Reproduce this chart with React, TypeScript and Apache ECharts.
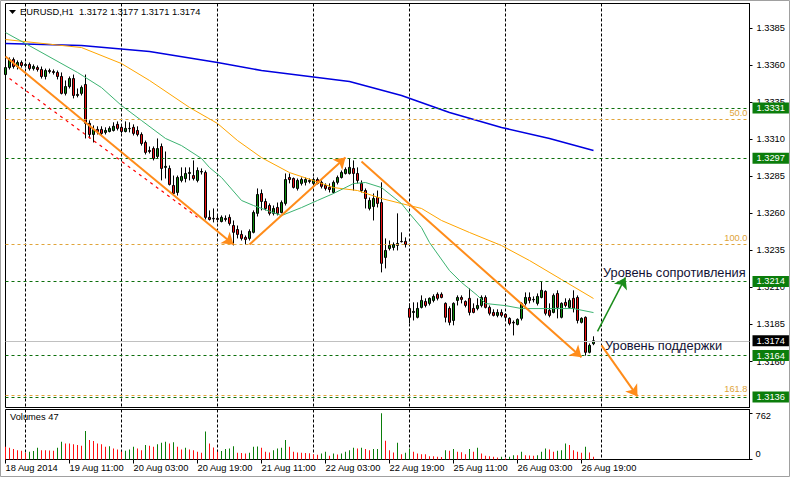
import React, { useEffect, useRef } from "react";
import * as echarts from "echarts";

const FONT = "'Liberation Sans', Arial, sans-serif";
const SYMBOL = "EURUSD,H1";
const TIME_LABELS = ["18 Aug 2014", "19 Aug 11:00", "20 Aug 03:00", "20 Aug 19:00", "21 Aug 11:00", "22 Aug 03:00", "22 Aug 19:00", "25 Aug 11:00", "26 Aug 03:00", "26 Aug 19:00"];
const LABEL_STEP = 16;
const SLOT_COUNT = 187;
const DAY_SEPARATORS = [5, 29, 53, 77, 101, 125, 149];
const PRICE_TICKS = [1.316, 1.3185, 1.321, 1.3235, 1.326, 1.3285, 1.331, 1.3335, 1.336, 1.3385];
const VOLUME_TICKS = [0, 762];

const OPEN = [
  1.33535, 1.33582, 1.33636, 1.33589, 1.33616, 1.33596, 1.33603, 1.33575, 1.33582, 1.33569,
  1.33522, 1.33562, 1.33555, 1.33549, 1.33522, 1.33408, 1.33454, 1.33508, 1.33394, 1.33408,
  1.33468, 1.33206, 1.33131, 1.33165, 1.33165, 1.33145, 1.33151, 1.33158, 1.33199, 1.33179,
  1.33151, 1.33172, 1.33179, 1.33158, 1.33131, 1.33077, 1.33023, 1.33036, 1.32983, 1.33050,
  1.32909, 1.32902, 1.32787, 1.32740, 1.32821, 1.32834, 1.32868, 1.32854, 1.32821, 1.32881,
  1.32875, 1.32572, 1.32565, 1.32565, 1.32544, 1.32565, 1.32572, 1.32517, 1.32490, 1.32457,
  1.32437, 1.32430, 1.32471, 1.32599, 1.32733, 1.32679, 1.32652, 1.32599, 1.32639, 1.32605,
  1.32666, 1.32841, 1.32834, 1.32767, 1.32801, 1.32808, 1.32821, 1.32801, 1.32827, 1.32808,
  1.32787, 1.32774, 1.32740, 1.32808, 1.32841, 1.32868, 1.32868, 1.32902, 1.32868, 1.32801,
  1.32753, 1.32632, 1.32645, 1.32706, 1.32672, 1.32302, 1.32362, 1.32369, 1.32383, 1.32410,
  1.32410, 1.31958, 1.31931, 1.31898, 1.31965, 1.32005, 1.31992, 1.32012, 1.32053, 1.32053,
  1.31992, 1.31958, 1.31877, 1.32012, 1.32032, 1.32005, 1.32026, 1.31958, 1.31958, 1.31978,
  1.32032, 1.31965, 1.31931, 1.31911, 1.31931, 1.31918, 1.31891, 1.31864, 1.31850, 1.31891,
  1.31992, 1.32032, 1.32019, 1.31992, 1.32032, 1.32073, 1.31945, 1.31931, 1.32059, 1.31898,
  1.31999, 1.31965, 1.32026, 1.32032, 1.31864, 1.31898, 1.31662, 1.3172,
];
const CLOSE = [
  1.33582, 1.33636, 1.33589, 1.33616, 1.33596, 1.33603, 1.33575, 1.33589, 1.33569, 1.33522,
  1.33562, 1.33555, 1.33549, 1.33522, 1.33408, 1.33454, 1.33508, 1.33394, 1.33401, 1.33448,
  1.33206, 1.33131, 1.33165, 1.33151, 1.33138, 1.33158, 1.33172, 1.33186, 1.33172, 1.33151,
  1.33172, 1.33170, 1.33138, 1.33131, 1.33070, 1.33010, 1.33016, 1.32969, 1.33036, 1.32902,
  1.32916, 1.32794, 1.32733, 1.32841, 1.32848, 1.32868, 1.32875, 1.32834, 1.32888, 1.32878,
  1.32572, 1.32558, 1.32562, 1.32558, 1.32572, 1.32558, 1.32531, 1.32471, 1.32457, 1.32430,
  1.32423, 1.32477, 1.32605, 1.32726, 1.32679, 1.32632, 1.32599, 1.32632, 1.32599, 1.32672,
  1.32827, 1.32827, 1.32774, 1.32821, 1.32827, 1.32827, 1.32814, 1.32827, 1.32801, 1.32781,
  1.32767, 1.32760, 1.32808, 1.32841, 1.32875, 1.32895, 1.32909, 1.32868, 1.32821, 1.32753,
  1.32699, 1.32686, 1.32699, 1.32666, 1.32262, 1.32349, 1.32383, 1.32389, 1.32396, 1.32408,
  1.32389, 1.31898, 1.31938, 1.31958, 1.32012, 1.31978, 1.32026, 1.32039, 1.32026, 1.32032,
  1.31898, 1.31864, 1.31992, 1.32032, 1.32019, 1.31978, 1.31931, 1.31931, 1.31978, 1.32032,
  1.31965, 1.31925, 1.31911, 1.31931, 1.31911, 1.31898, 1.31857, 1.31860, 1.31884, 1.31992,
  1.32032, 1.32012, 1.32016, 1.32039, 1.32080, 1.31925, 1.31911, 1.32046, 1.31965, 1.31992,
  1.31978, 1.32012, 1.31958, 1.31877, 1.31891, 1.31662, 1.31709, 1.3174,
];
const LOW = [
  1.33522, 1.33569, 1.33575, 1.33569, 1.33582, 1.33582, 1.33562, 1.33562, 1.33555, 1.33508,
  1.33502, 1.33542, 1.33535, 1.33502, 1.33401, 1.33394, 1.33441, 1.33374, 1.33381, 1.33394,
  1.33104, 1.33104, 1.33077, 1.33131, 1.33124, 1.33131, 1.33145, 1.33151, 1.33158, 1.33138,
  1.33145, 1.33145, 1.33124, 1.33118, 1.33056, 1.32996, 1.33003, 1.32956, 1.32969, 1.32821,
  1.32834, 1.32787, 1.32719, 1.32719, 1.32808, 1.32808, 1.32821, 1.32821, 1.32808, 1.32861,
  1.32558, 1.32551, 1.32538, 1.32538, 1.32538, 1.32544, 1.32517, 1.32383, 1.32430, 1.32416,
  1.32389, 1.32416, 1.32464, 1.32578, 1.32619, 1.32619, 1.32585, 1.32585, 1.32585, 1.32599,
  1.32652, 1.32801, 1.32767, 1.32753, 1.32787, 1.32787, 1.32801, 1.32787, 1.32794, 1.32767,
  1.32753, 1.32740, 1.32733, 1.32794, 1.32834, 1.32861, 1.32861, 1.32753, 1.32801, 1.32740,
  1.32632, 1.32619, 1.32551, 1.32639, 1.32201, 1.32228, 1.32349, 1.32349, 1.32349, 1.32403,
  1.32369, 1.31857, 1.31877, 1.31891, 1.31958, 1.31965, 1.31978, 1.31999, 1.32012, 1.32026,
  1.31864, 1.31844, 1.31844, 1.31978, 1.31992, 1.31965, 1.31911, 1.31925, 1.31945, 1.31965,
  1.31958, 1.31911, 1.31904, 1.31898, 1.31898, 1.31877, 1.31844, 1.31776, 1.31844, 1.31877,
  1.31978, 1.31992, 1.31999, 1.31978, 1.32026, 1.31911, 1.31898, 1.31925, 1.31891, 1.31891,
  1.31965, 1.31958, 1.31931, 1.31857, 1.31857, 1.3164, 1.31655, 1.3171,
];
const HIGH = [
  1.33609, 1.33650, 1.33650, 1.33630, 1.33630, 1.33616, 1.33616, 1.33603, 1.33596, 1.33589,
  1.33575, 1.33575, 1.33569, 1.33562, 1.33549, 1.33495, 1.33522, 1.33535, 1.33441, 1.33461,
  1.33535, 1.33226, 1.33192, 1.33186, 1.33186, 1.33179, 1.33186, 1.33213, 1.33219, 1.33199,
  1.33219, 1.33213, 1.33199, 1.33186, 1.33145, 1.33090, 1.33050, 1.33050, 1.33104, 1.33070,
  1.33016, 1.32922, 1.32854, 1.32854, 1.32909, 1.32909, 1.32909, 1.32956, 1.32909, 1.32902,
  1.32888, 1.32619, 1.32632, 1.32592, 1.32585, 1.32585, 1.32592, 1.32551, 1.32517, 1.32484,
  1.32450, 1.32491, 1.32619, 1.32767, 1.32760, 1.32699, 1.32666, 1.32652, 1.32672, 1.32686,
  1.32868, 1.32868, 1.32841, 1.32834, 1.32841, 1.32841, 1.32834, 1.32841, 1.32841, 1.32821,
  1.32801, 1.32801, 1.32821, 1.32854, 1.32888, 1.32909, 1.32970, 1.32956, 1.32909, 1.32821,
  1.32767, 1.32706, 1.32733, 1.32753, 1.32808, 1.32430, 1.32416, 1.32403, 1.32599, 1.32471,
  1.32437, 1.31992, 1.31999, 1.31999, 1.32046, 1.32026, 1.32032, 1.32053, 1.32066, 1.32066,
  1.31999, 1.31972, 1.31999, 1.32046, 1.32046, 1.32012, 1.32093, 1.31992, 1.32026, 1.32046,
  1.32046, 1.31978, 1.31952, 1.31952, 1.31952, 1.31925, 1.31898, 1.31877, 1.31891, 1.31999,
  1.32066, 1.32066, 1.32039, 1.32059, 1.32140, 1.32080, 1.31992, 1.32059, 1.32080, 1.31999,
  1.32026, 1.32026, 1.32080, 1.32046, 1.31898, 1.31904, 1.31722, 1.3177,
];
const VOLUMES = [
  210, 194, 171, 154, 144, 111, 128, 138, 194, 154,
  152, 150, 144, 194, 293, 265, 262, 249, 237, 227,
  469, 320, 303, 265, 249, 210, 220, 182, 166, 128,
  144, 166, 210, 182, 154, 237, 227, 210, 249, 277,
  293, 265, 282, 210, 166, 194, 166, 154, 128, 111,
  459, 265, 199, 128, 138, 171, 182, 220, 111, 109,
  99, 111, 210, 214, 194, 128, 116, 154, 182, 194,
  320, 210, 128, 116, 111, 108, 104, 88, 78, 99,
  128, 61, 99, 83, 99, 128, 154, 194, 182, 194,
  171, 154, 171, 174, 762, 310, 154, 116, 277, 88,
  111, 182, 128, 99, 88, 86, 55, 53, 45, 40,
  154, 144, 171, 128, 121, 88, 171, 128, 194, 99,
  61, 55, 45, 33, 45, 22, 45, 71, 70, 128,
  71, 66, 61, 71, 128, 182, 166, 128, 144, 154,
  265, 237, 154, 128, 111, 210, 116, 47,
];

const BLUE_MA_X = [0, 19, 36, 53, 64, 74, 86, 99, 111, 124, 136, 147];
const BLUE_MA_Y = [1.33744, 1.33731, 1.3369, 1.33616, 1.33562, 1.33528, 1.33488, 1.33394, 1.33279, 1.33178, 1.33104, 1.33023];
const ORANGE_MA_X = [0, 19, 29, 36, 46, 53, 58, 64, 71, 77, 82, 88, 94, 99, 104, 109, 116, 124, 131, 139, 147];
const ORANGE_MA_Y = [1.33771, 1.33717, 1.33609, 1.33495, 1.33313, 1.33205, 1.3309, 1.32975, 1.32874, 1.3282, 1.32773, 1.32753, 1.32699, 1.32665, 1.32632, 1.32551, 1.3247, 1.32382, 1.32281, 1.32153, 1.32025];
const GREEN_MA_X = [0, 5, 18, 24, 29, 34, 40, 44, 49, 51, 54, 59, 62, 69, 74, 78, 82, 87, 90, 94, 99, 101, 104, 106, 111, 114, 118, 120, 125, 129, 142, 147];
const GREEN_MA_Y = [1.33818, 1.33744, 1.33549, 1.33447, 1.33326, 1.33225, 1.33104, 1.33056, 1.32969, 1.32908, 1.32841, 1.32686, 1.32652, 1.32584, 1.32638, 1.32686, 1.32733, 1.328, 1.32807, 1.32773, 1.32665, 1.32598, 1.32503, 1.32402, 1.32213, 1.32133, 1.32045, 1.31991, 1.31977, 1.31957, 1.31957, 1.3193];

const SUPPORT_LEVELS = [1.3331, 1.3297, 1.3214, 1.3164, 1.3136];
const FIB_LEVELS = [1.33232, 1.32391, 1.31372];
const FIB_LABELS = ["50.0", "100.0", "161.8"];
const BID = 1.3174;

const ORANGE_TRENDS = [
  [[0, 1.33656], [57, 1.32389]],
  [[61, 1.32389], [85, 1.32976]],
  [[89, 1.32949], [144, 1.31628]],
  [[149, 1.31709], [158, 1.31365]],
];
const GREEN_TRENDS = [[[148, 1.31803], [155, 1.32167]]];
const RED_TRENDS = [[[1, 1.33508], [48, 1.32572]]];

const RESIST_TEXT = "Уровень сопротивления";
const SUPPORT_TEXT = "Уровень поддержки";

const CANDLE_UP = "#0c8a0c";
const CANDLE_DOWN = "#ee1111";
const VOL_UP = "#0a7d0a";
const VOL_DOWN = "#ff1010";
const LEVEL_GREEN = "#0b6e0b";
const LEVEL_BOX = "#0b7d0b";
const FIB_COLOR = "#e0a43a";

export default function App() {
  const ref = useRef<HTMLDivElement>(null);
  useEffect(() => {
    const chart = echarts.init(ref.current!, null, { renderer: "svg" });
    const cats = Array.from({ length: SLOT_COUNT }, (_, i) => String(i));
    const lastSlot = SLOT_COUNT - 1;
    const sepFn = (i: number) => DAY_SEPARATORS.indexOf(i) >= 0;
    const labelFn = (i: number) => i % LABEL_STEP === 0 && i / LABEL_STEP < TIME_LABELS.length;
    const last = OPEN.length - 1;
    const header = `${SYMBOL}  ${OPEN[last].toFixed(4)} ${HIGH[last].toFixed(4)} ${LOW[last].toFixed(4)} ${CLOSE[last].toFixed(4)}`;
    const boxLabel = (v: number, bg: string) => ({
      show: true, position: "end", distance: 3, formatter: v.toFixed(4), color: "#fff",
      backgroundColor: bg, padding: [1, 4, 1, 4], fontSize: 9.3, lineHeight: 9, fontFamily: FONT,
    });
    const hLine = (v: number, label: any) => [{ coord: [0, v], label }, { coord: [lastSlot, v] }];
    const dummy = (markLine: any, z = 5) => ({
      type: "line", xAxisIndex: 0, yAxisIndex: 0, data: [], silent: true, z,
      markLine: { silent: true, animation: false, ...markLine },
    });
    const trendSeries = (lines: number[][][], color: string, width: number, type: any, arrow: boolean) =>
      dummy({
        symbol: arrow ? ["none", "arrow"] : ["none", "none"], symbolSize: 11,
        lineStyle: { color, width, type }, label: { show: false },
        data: lines.map(([a, b]) => [{ coord: a }, { coord: b }]),
      }, 6);
    const maSeries = (xs: number[], ys: number[], color: string, width: number) => ({
      type: "line", xAxisIndex: 0, yAxisIndex: 0, showSymbol: false, symbol: "none", silent: true, z: 4,
      lineStyle: { color, width }, data: xs.map((x, k) => [x, ys[k]]),
    });
    const option: any = {
      animation: false,
      textStyle: { fontFamily: FONT },
      grid: [
        { left: 5.5, top: 3.5, width: 744, height: 404, show: true, borderColor: "#000", borderWidth: 1, backgroundColor: "#fff" },
        { left: 5.5, top: 409.5, width: 744, height: 50, show: true, borderColor: "#000", borderWidth: 1, backgroundColor: "#fff" },
      ],
      xAxis: [
        {
          type: "category", gridIndex: 0, data: cats, boundaryGap: false,
          axisLine: { show: false }, axisTick: { show: false }, axisLabel: { show: false },
          splitLine: { show: true, interval: sepFn, lineStyle: { color: "#000", type: [3, 2], width: 1 } },
        },
        {
          type: "category", gridIndex: 1, data: cats, boundaryGap: false,
          axisLine: { show: true, lineStyle: { color: "#000" } },
          axisTick: { show: true, interval: labelFn, length: 4, lineStyle: { color: "#000" } },
          axisLabel: {
            show: true, interval: labelFn, align: "left", margin: 4, fontSize: 9.3, color: "#000", fontFamily: FONT,
            formatter: (_v: string, i: number) => TIME_LABELS[i / LABEL_STEP] ?? "",
          },
          splitLine: { show: true, interval: sepFn, lineStyle: { color: "#000", type: [3, 2], width: 1 } },
        },
      ],
      yAxis: [
        {
          type: "value", gridIndex: 0, position: "right", min: 1.3129, max: 1.34014,
          splitLine: { show: false }, axisLine: { show: true, lineStyle: { color: "#000" } },
          axisTick: { show: true, customValues: PRICE_TICKS, length: 3, lineStyle: { color: "#000" } },
          axisLabel: { customValues: PRICE_TICKS, formatter: (v: number) => v.toFixed(4), margin: 7, fontSize: 9.3, color: "#000", fontFamily: FONT },
        },
        {
          type: "value", gridIndex: 1, position: "right", min: 0, max: 823,
          splitLine: { show: false }, axisLine: { show: true, lineStyle: { color: "#000" } },
          axisTick: { show: true, customValues: VOLUME_TICKS, length: 3, lineStyle: { color: "#000" } },
          axisLabel: {
            customValues: VOLUME_TICKS, margin: 6, fontSize: 9.3, color: "#000", fontFamily: FONT,
            formatter: (v: number) => (v === 0 ? `{lo|0}` : `{hi|${v}}`),
            rich: { lo: { padding: [0, 0, 12, 0], fontSize: 9.3 }, hi: { padding: [5, 0, 0, 0], fontSize: 9.3 } },
          },
        },
      ],
      series: [
        dummy({ symbol: ["none", "none"], lineStyle: { color: "#c0c0c0", type: "solid", width: 1 }, data: [hLine(BID, boxLabel(BID, "#000"))] }, 1),
        dummy({
          symbol: ["none", "none"], lineStyle: { color: FIB_COLOR, type: [3, 3], width: 1 },
          data: FIB_LEVELS.map((v, k) => hLine(v, { show: true, position: "insideEndTop", distance: 2, formatter: FIB_LABELS[k], color: FIB_COLOR, fontSize: 9.3, fontFamily: FONT })),
        }, 1),
        dummy({
          symbol: ["none", "none"], lineStyle: { color: LEVEL_GREEN, type: [3, 3], width: 1 },
          data: SUPPORT_LEVELS.map((v) => hLine(v, boxLabel(v, LEVEL_BOX))),
        }, 1),
        maSeries(BLUE_MA_X, BLUE_MA_Y, "#0000e0", 1.6),
        maSeries(ORANGE_MA_X, ORANGE_MA_Y, "#ffa500", 1),
        maSeries(GREEN_MA_X, GREEN_MA_Y, "#3cb371", 1),
        {
          type: "candlestick", xAxisIndex: 0, yAxisIndex: 0, barWidth: 2, z: 3, silent: true,
          data: OPEN.map((o, i) => [o, CLOSE[i], LOW[i], HIGH[i]]),
          itemStyle: { color: CANDLE_UP, color0: CANDLE_DOWN, borderColor: "#000", borderColor0: "#000", borderWidth: 1 },
        },
        trendSeries(RED_TRENDS, "#ff0000", 1.2, [3, 4], false),
        trendSeries(ORANGE_TRENDS, "#ff8c1a", 2, "solid", true),
        trendSeries(GREEN_TRENDS, "#1a8c1a", 1.5, "solid", true),
        {
          type: "bar", xAxisIndex: 1, yAxisIndex: 1, barWidth: 1, silent: true,
          data: VOLUMES.map((v, i) => ({ value: v, itemStyle: { color: i > 0 && v > VOLUMES[i - 1] ? VOL_UP : VOL_DOWN } })),
        },
      ],
      graphic: [
        { type: "rect", silent: true, shape: { x: 0.5, y: 0.5, width: 789, height: 476 }, style: { fill: "none", stroke: "#a0a0a0", lineWidth: 1 } },
        { type: "polygon", silent: true, shape: { points: [[9, 10], [16, 10], [12.5, 14]] }, style: { fill: "#000" } },
        { type: "text", silent: true, x: 20, y: 12, style: { text: header, fontSize: 9.3, fontFamily: FONT, fill: "#000", align: "left", verticalAlign: "middle" } },
        { type: "text", silent: true, x: 10, y: 417, style: { text: `Volumes ${VOLUMES[last]}`, fontSize: 9.3, fontFamily: FONT, fill: "#000", align: "left", verticalAlign: "middle" } },
        { type: "text", silent: true, x: 603, y: 272, z: 10, style: { text: RESIST_TEXT, fontSize: 12.8, fontFamily: FONT, fill: "#111133", align: "left", verticalAlign: "middle" } },
        { type: "text", silent: true, x: 605, y: 345, z: 10, style: { text: SUPPORT_TEXT, fontSize: 12.8, fontFamily: FONT, fill: "#111133", align: "left", verticalAlign: "middle" } },
      ],
    };
    chart.setOption(option);
    return () => chart.dispose();
  }, []);
  return <div ref={ref} style={{ position: "fixed", left: 0, top: 0, width: 792, height: 479, background: "#fff" }} />;
}
